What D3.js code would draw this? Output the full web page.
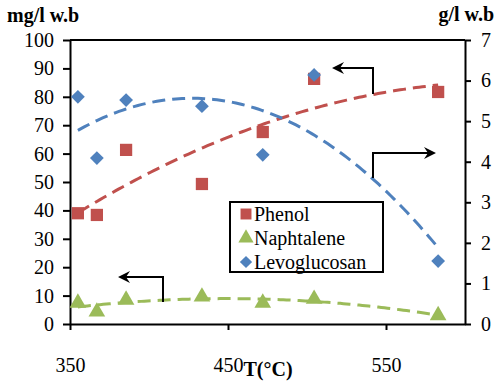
<!DOCTYPE html>
<html>
<head>
<meta charset="utf-8">
<script src="https://cdn.jsdelivr.net/npm/d3@7"></script>
<style>
body { margin: 0; background: #fff; }
svg { display: block; }
text { font-family: "Liberation Serif", "Times New Roman", serif; fill: #000; }
.axis path, .axis line { stroke: #000; stroke-width: 2px; }
.axis text { font-size: 20px; font-family: "Liberation Serif", "Times New Roman", serif; }
.title { font-size: 20px; font-weight: bold; }
.trend { fill: none; stroke-width: 3px; stroke-dasharray: 13 7; }
.pointer { fill: none; stroke: #000; stroke-width: 2px; }
</style>
</head>
<body>
<script>
(function(){

//temperatures (°C) where samples were taken
var temps = [355, 367, 385.5, 433.5, 472, 504.5, 583];

//series values
var phenol = [39, 38.4, 61.3, 49.3, 67.6, 86.3, 81.7];         //mg/l (left axis)
var naphtalene = [7.4, 4.3, 8.5, 9.6, 7.4, 8.8, 3.0];          //mg/l (left axis)
var levoglucosan = [5.6, 4.09, 5.52, 5.37, 4.17, 6.14, 1.55];  //g/l (right axis)

var xTicks = [350, 450, 550];
var leftTicks = d3.range(0, 101, 10);
var rightTicks = d3.range(0, 8, 1);

var seriesNames = ["Phenol", "Naphtalene", "Levoglucosan"];
var seriesColors = ["#C0504D", "#9BBB59", "#4F81BD"];

var serif = "'Liberation Serif', 'Times New Roman', serif";

window.onload = drawChart();

function drawChart(){

    var width = 498,
        height = 389;

    var margin = {left: 70, right: 33, top: 40, bottom: 65};

    var svg = d3.select("body")
        .append("svg")
        .attr("width", width)
        .attr("height", height)
        .attr("font-family", serif);

    var x = d3.scaleLinear()
        .domain([350, 600])
        .range([margin.left, width - margin.right]);

    var yLeft = d3.scaleLinear()
        .domain([0, 100])
        .range([height - margin.bottom, margin.top]);

    var yRight = d3.scaleLinear()
        .domain([0, 7])
        .range([height - margin.bottom, margin.top]);

    //top border of plot box
    svg.append("line")
        .attr("x1", x(350)).attr("x2", x(600))
        .attr("y1", yLeft(100)).attr("y2", yLeft(100))
        .attr("stroke", "#000").attr("stroke-width", 2);

    //axes
    svg.append("g")
        .attr("class", "axis")
        .attr("transform", "translate(0," + yLeft(0) + ")")
        .call(d3.axisBottom(x).tickValues(xTicks).tickFormat(d3.format("d"))
            .tickSize(6).tickSizeOuter(0).tickPadding(28));

    svg.append("g")
        .attr("class", "axis")
        .attr("transform", "translate(" + x(350) + ",0)")
        .call(d3.axisLeft(yLeft).tickValues(leftTicks).tickFormat(d3.format("d"))
            .tickSize(7).tickSizeOuter(0).tickPadding(9));

    svg.append("g")
        .attr("class", "axis")
        .attr("transform", "translate(" + x(600) + ",0)")
        .call(d3.axisRight(yRight).tickValues(rightTicks).tickFormat(d3.format("d"))
            .tickSize(6).tickSizeOuter(0).tickPadding(10));

    svg.selectAll(".axis").attr("font-family", serif).attr("font-size", 20);

    //axis titles
    svg.append("text").attr("class", "title")
        .attr("x", 7).attr("y", 22)
        .text("mg/l w.b");

    svg.append("text").attr("class", "title")
        .attr("x", 494).attr("y", 21)
        .attr("text-anchor", "end")
        .text("g/l w.b");

    svg.append("text").attr("class", "title")
        .attr("x", 268).attr("y", 376)
        .attr("text-anchor", "middle")
        .text("T(°C)");

    //trend lines (second order polynomial fit, as the spreadsheet does)
    var datasets = [
        {values: phenol, y: yLeft},
        {values: naphtalene, y: yLeft},
        {values: levoglucosan, y: yRight}
    ];

    datasets.forEach(function(ds, i){
        var coef = quadFit(temps, ds.values);
        var xs = d3.range(temps[0], temps[temps.length - 1] + 0.01, 2);
        var line = d3.line()
            .x(function(t){ return x(t); })
            .y(function(t){ return ds.y(coef[0] + coef[1] * t + coef[2] * t * t); });
        svg.append("path")
            .datum(xs)
            .attr("class", "trend")
            .attr("stroke", seriesColors[i])
            .attr("d", line);
    });

    //pointer arrows telling which axis each series uses
    var defs = svg.append("defs");
    defs.append("marker")
        .attr("id", "head")
        .attr("viewBox", "0 0 12 12")
        .attr("refX", 10).attr("refY", 6)
        .attr("markerWidth", 12).attr("markerHeight", 12)
        .attr("markerUnits", "userSpaceOnUse")
        .attr("orient", "auto")
        .append("path")
        .attr("d", "M0,0 L12,6 L0,12 L4,6 Z")
        .attr("fill", "#000");

    var pointers = [
        [[373, 94], [373, 68], [334, 68]],
        [[373, 178], [373, 153], [434, 153]],
        [[163, 302], [163, 277], [120, 277]]
    ];
    pointers.forEach(function(p){
        svg.append("path")
            .attr("class", "pointer")
            .attr("d", d3.line()(p))
            .attr("marker-end", "url(#head)");
    });

    //markers: square, triangle, and a square turned 45 degrees for the diamond
    var symbols = [d3.symbolSquare, d3.symbolTriangle, d3.symbolSquare];
    var sizes = [150, 120, 95];
    var turns = [0, 0, 45];

    datasets.forEach(function(ds, i){
        svg.selectAll(".pt" + i)
            .data(ds.values)
            .enter()
            .append("path")
            .attr("class", "pt" + i)
            .attr("transform", function(d, j){
                return "translate(" + x(temps[j]) + "," + ds.y(d) + ") rotate(" + turns[i] + ")";
            })
            .attr("d", d3.symbol().type(symbols[i]).size(sizes[i]))
            .attr("fill", seriesColors[i]);
    });

    //legend
    var legend = svg.append("g").attr("transform", "translate(230,202)");
    legend.append("rect")
        .attr("width", 153).attr("height", 70)
        .attr("fill", "#fff").attr("stroke", "#000").attr("stroke-width", 2);

    var legendSizes = [120, 100, 75];
    seriesNames.forEach(function(name, i){
        var cy = 12 + i * 24;
        legend.append("path")
            .attr("transform", "translate(16," + cy + ") rotate(" + turns[i] + ")")
            .attr("d", d3.symbol().type(symbols[i]).size(legendSizes[i]))
            .attr("fill", seriesColors[i]);
        legend.append("text")
            .attr("x", 24).attr("y", cy)
            .attr("dy", "0.35em")
            .attr("font-size", 20)
            .text(name);
    });
};

//least squares fit of y = a + b x + c x^2
function quadFit(xs, ys){
    var n = xs.length, x0 = d3.mean(xs);
    var s = [0, 0, 0, 0, 0], t = [0, 0, 0];
    for (var i = 0; i < n; i++){
        var u = xs[i] - x0;
        for (var k = 0; k < 5; k++) s[k] += Math.pow(u, k);
        for (var k = 0; k < 3; k++) t[k] += ys[i] * Math.pow(u, k);
    }
    var A = [[s[0], s[1], s[2]], [s[1], s[2], s[3]], [s[2], s[3], s[4]]];
    var c = solve3(A, t);
    //convert back from centred form
    return [c[0] - c[1] * x0 + c[2] * x0 * x0, c[1] - 2 * c[2] * x0, c[2]];
};

function solve3(A, b){
    var M = A.map(function(r, i){ return r.concat([b[i]]); });
    for (var i = 0; i < 3; i++){
        var p = i;
        for (var r = i + 1; r < 3; r++) if (Math.abs(M[r][i]) > Math.abs(M[p][i])) p = r;
        var tmp = M[i]; M[i] = M[p]; M[p] = tmp;
        for (var r = 0; r < 3; r++){
            if (r == i) continue;
            var f = M[r][i] / M[i][i];
            for (var k = i; k < 4; k++) M[r][k] -= f * M[i][k];
        }
    }
    return [M[0][3] / M[0][0], M[1][3] / M[1][1], M[2][3] / M[2][2]];
};

})();
</script>
</body>
</html>
